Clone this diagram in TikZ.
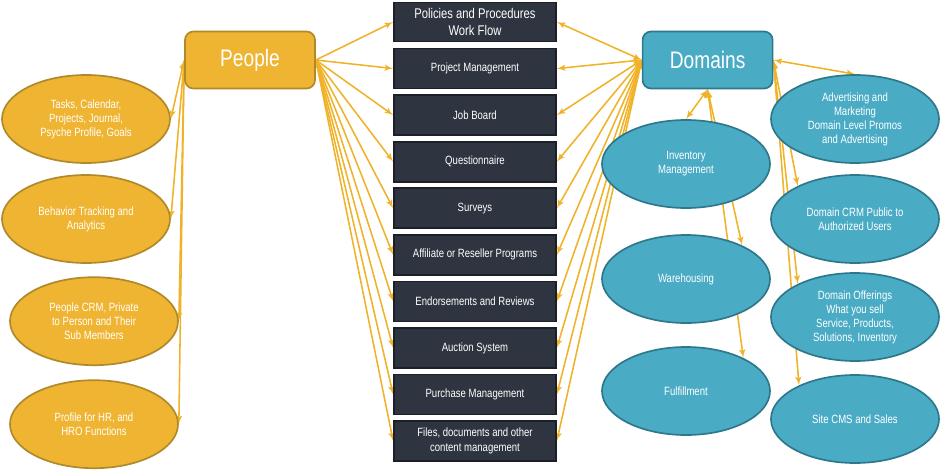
\documentclass[tikz,border=0pt]{standalone}
\usepackage{fontspec}
\setmainfont{Liberation Sans}[FakeStretch=0.8]
\usepackage{tikz}
\usetikzlibrary{shapes, arrows, positioning, backgrounds}
\definecolor{gold}{HTML}{EFB431}
\definecolor{goldline}{HTML}{B08A2A}
\definecolor{domblue}{HTML}{4AABC5}
\definecolor{domline}{HTML}{2E788C}
\definecolor{slate}{HTML}{2E3540}
\definecolor{slateline}{HTML}{1C2026}
\definecolor{linkc}{HTML}{F0B228}
\tikzstyle{hub}      = [draw, rectangle, rounded corners=6pt, line width=1.2pt, minimum width=3.25cm, minimum height=1.425cm, text=white, font=\fontsize{17}{20}\selectfont]
\tikzstyle{peoplebox}= [hub, fill=gold, draw=goldline]
\tikzstyle{domainbox}= [hub, fill=domblue, draw=domline]
\tikzstyle{task}     = [draw=slateline, fill=slate, rectangle, line width=1.2pt, minimum width=4.05cm, minimum height=1.0cm, text=white, align=center, font=\fontsize{8.5}{10.5}\selectfont]
\tikzstyle{o}        = [draw, ellipse, line width=1.2pt, minimum width=4.2cm, minimum height=2.2cm, inner sep=0pt, text=white, align=center, font=\fontsize{8.5}{10}\selectfont]
\tikzstyle{ogold}    = [o, fill=gold, draw=goldline]
\tikzstyle{oblue}    = [o, fill=domblue, draw=domline]
\tikzstyle{arr}      = [draw, color=linkc, line width=1.1pt, -latex']
\tikzstyle{both}     = [arr, latex'-latex']

\begin{document}
\begin{tikzpicture}[node distance = 1.164cm]
\useasboundingbox (0,0) rectangle (23.5,-11.75);

% hubs
\node [peoplebox] (people)  at (6.25,-1.5)  {People};
\node [domainbox] (domains) at (17.69,-1.5) {Domains};

% middle column
\node [task, minimum height=0.98cm, font=\fontsize{10}{11.5}\selectfont] (policies) at (11.875,-0.55) {Policies and Procedures\\Work Flow};
\node [task, below of=policies]   (project)   {Project Management};
\node [task, below of=project]    (jobboard)  {Job Board};
\node [task, below of=jobboard]   (question)  {Questionnaire};
\node [task, below of=question]   (surveys)   {Surveys};
\node [task, below of=surveys]    (affiliate) {Affiliate or Reseller Programs};
\node [task, below of=affiliate]  (endorse)   {Endorsements and Reviews};
\node [task, below of=endorse]    (auction)   {Auction System};
\node [task, below of=auction]    (purchase)  {Purchase Management};
\node [task, below of=purchase]   (files)     {Files, documents and other\\content management};

% people side
\node [ogold] (tasks)    at (2.15,-2.975)                    {Tasks, Calendar,\\Projects, Journal,\\Psyche Profile, Goals};
\node [ogold, below of=tasks, node distance=2.5cm] (behavior) {Behavior Tracking and\\Analytics};
\node [ogold] (pcrm)     at (2.35,-8.03)                     {People CRM, Private\\to Person and Their\\Sub Members};
\node [ogold, below of=pcrm, node distance=2.575cm] (hr)      {Profile for HR, and\\HRO Functions};

% domain side
\node [oblue] (inventory) at (17.15,-4.1)                                {Inventory\\Management};
\node [oblue, below of=inventory, node distance=2.875cm] (warehousing)   {Warehousing};
\node [oblue, below of=warehousing, node distance=2.8cm] (fulfillment)   {Fulfillment};
\node [oblue] (advertising) at (21.375,-2.975)                           {Advertising and\\Marketing\\Domain Level Promos\\and Advertising};
\node [oblue, below of=advertising, node distance=2.5cm] (dcrm)          {Domain CRM Public to\\Authorized Users};
\node [oblue, below of=dcrm, node distance=2.45cm]       (offerings)     {Domain Offerings\\What you sell\\Service, Products,\\Solutions, Inventory};
\node [oblue, below of=offerings, node distance=2.55cm]  (sitecms)       {Site CMS and Sales};

% edges
\begin{pgfonlayer}{background}
\path [both] (people.west)  edge (tasks.east);
\path [both] (people.west)  edge (behavior.east);
\path [both] (people.west)  edge (pcrm.east);
\path [both] (people.west)  edge (hr.east);

\path [arr]  (people.east)  edge (policies.west);
\path [arr]  (people.east)  edge (project.west);
\path [arr]  (people.east)  edge (jobboard.west);
\path [arr]  (people.east)  edge (question.west);
\path [arr]  (people.east)  edge (surveys.west);
\path [arr]  (people.east)  edge (affiliate.west);
\path [arr]  (people.east)  edge (endorse.west);
\path [arr]  (people.east)  edge (auction.west);
\path [arr]  (people.east)  edge (purchase.west);
\path [arr]  (people.east)  edge (files.west);

\path [both] (domains.west) edge (policies.east);
\path [both] (domains.west) edge (project.east);
\path [both] (domains.west) edge (jobboard.east);
\path [both] (domains.west) edge (question.east);
\path [both] (domains.west) edge (surveys.east);
\path [both] (domains.west) edge (affiliate.east);
\path [both] (domains.west) edge (endorse.east);
\path [both] (domains.west) edge (auction.east);
\path [both] (domains.west) edge (purchase.east);
\path [both] (domains.west) edge (files.east);

\path [both] (domains.south) edge (inventory.north);
\path [both] (domains.south) edge (warehousing.31);
\path [both] (domains.south) edge (fulfillment.30);

\path [both] (domains.east)  edge (advertising.north);
\path [both] (domains.east)  edge (dcrm.150);
\path [both] (domains.east)  edge (offerings.150);
\path [both] (domains.east)  edge (sitecms.149);
\end{pgfonlayer}

\end{tikzpicture}
\end{document}
